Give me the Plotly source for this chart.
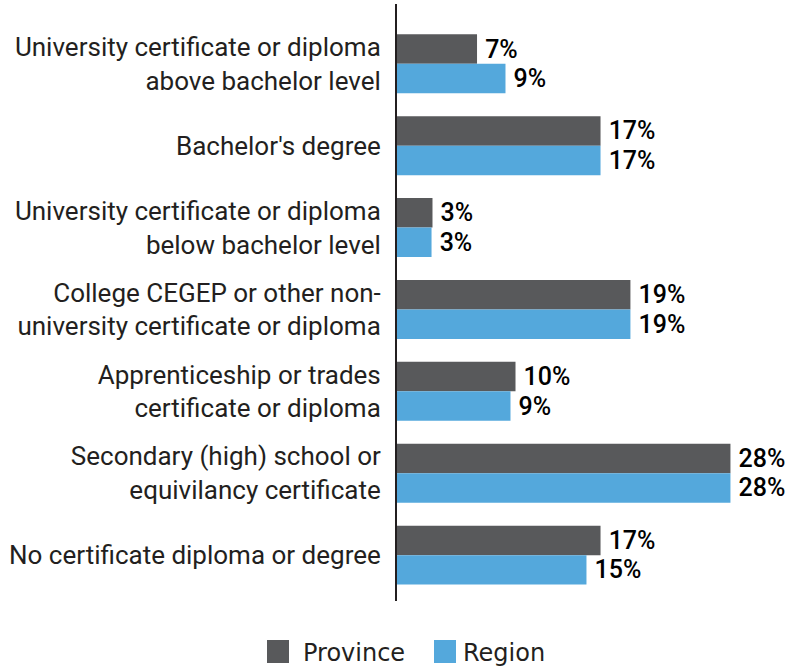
import plotly.graph_objects as go

categories = [
    "University certificate or diploma<br>above bachelor level",
    "Bachelor's degree",
    "University certificate or diploma<br>below bachelor level",
    "College CEGEP or other non-<br>university certificate or diploma",
    "Apprenticeship or trades<br>certificate or diploma",
    "Secondary (high) school or<br>equivilancy certificate",
    "No certificate diploma or degree",
]
province = [6.72, 17.09, 2.98, 19.6, 9.95, 28.0, 17.09]
region = [9.11, 17.09, 2.9, 19.6, 9.53, 28.0, 15.91]
province_labels = ["7%", "17%", "3%", "19%", "10%", "28%", "17%"]
region_labels = ["9%", "17%", "3%", "19%", "9%", "28%", "15%"]
series_names = ["Province", "Region"]

PROV_COLOR = "#58595b"
REG_COLOR = "#54a8dc"

fig = go.Figure()
fig.add_trace(go.Bar(
    y=categories, x=province, name=series_names[0], orientation="h",
    marker=dict(color=PROV_COLOR, line=dict(width=0)),
    text=province_labels, textposition="outside", texttemplate="\u2009%{text}",
    textfont=dict(family="Roboto", size=25, color="#000000", weight=500),
    cliponaxis=False, hoverinfo="skip", showlegend=False,
))
fig.add_trace(go.Bar(
    y=categories, x=region, name=series_names[1], orientation="h",
    marker=dict(color=REG_COLOR, line=dict(width=0)),
    text=region_labels, textposition="outside", texttemplate="\u2009%{text}",
    textfont=dict(family="Roboto", size=25, color="#000000", weight=500),
    cliponaxis=False, hoverinfo="skip", showlegend=False,
))

# Plot area: x 397..790 px, y 4..601 px
L, R, T, B = 397, 790, 4, 601
W, H = R - L, B - T

def px(x):
    return (x - L) / W

def py(y):
    return (B - y) / H

shapes = []
annotations = []
legend_items = [
    (series_names[0], PROV_COLOR, 267, 301),
    (series_names[1], REG_COLOR, 434, 461),
]
for name, color, sq_x, tx in legend_items:
    shapes.append(dict(type="rect", xref="paper", yref="paper",
                       x0=px(sq_x), x1=px(sq_x + 22), y0=py(640), y1=py(663),
                       fillcolor=color, line=dict(width=0)))
    annotations.append(dict(text=name, xref="paper", yref="paper",
                            x=px(tx), y=py(653), xanchor="left", yanchor="middle",
                            showarrow=False,
                            font=dict(family="DejaVu Sans", size=24, color="#231f20")))

fig.update_layout(
    width=798, height=672,
    margin=dict(l=L, r=798 - R, t=T, b=672 - B),
    paper_bgcolor="white", plot_bgcolor="white",
    barmode="group", bargap=0.28, bargroupgap=0,
    showlegend=False,
    shapes=shapes, annotations=annotations,
    xaxis=dict(range=[0, 33.0], showgrid=False, zeroline=False, automargin=False,
               showticklabels=False, ticks="", showline=False, fixedrange=True),
    yaxis=dict(
        categoryorder="array", categoryarray=categories, automargin=False,
        range=[6.56, -0.73], showgrid=False, zeroline=False,
        showline=True, linecolor="#231f20", linewidth=2,
        ticks="", ticklabelstandoff=9, fixedrange=True,
        tickfont=dict(family="Roboto", size=26, color="#231f20", weight=400),
    ),
)

fig.write_html("out.html", config={"displayModeBar": False},
               post_script="document.body.style.margin='0px';")
